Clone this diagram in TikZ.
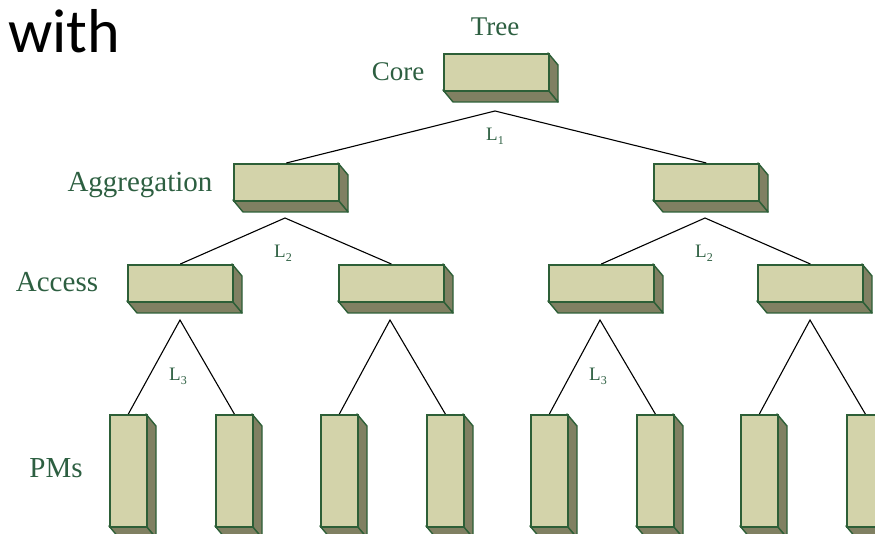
\documentclass[tikz,border=0pt]{standalone}
\usepackage{fontspec}
\setmainfont{Liberation Serif}
\newfontfamily\withfont{Carlito}
\usetikzlibrary{calc}
\definecolor{frontc}{RGB}{211,211,170}
\definecolor{sidec}{RGB}{128,128,98}
\definecolor{edgec}{RGB}{45,95,55}
\definecolor{txtc}{RGB}{45,95,65}
\tikzset{
  frontbox/.style={draw=edgec, fill=frontc, line width=1.7pt, rectangle, inner sep=0pt, anchor=north west},
  sidebox/.style={draw=edgec, fill=sidec, line width=1.4pt, line join=round},
  conn/.style={draw=black, line width=1.1pt},
  lvl/.style={text=txtc, font=\fontsize{27}{27}\selectfont, anchor=base, inner sep=0pt},
  lbl/.style={text=txtc, font=\fontsize{19}{19}\selectfont, anchor=base west, inner sep=0pt}
}
\newcommand\tdbox[5]{%
  \filldraw[sidebox] ({#2+#4},{#3}) -- ++(10,12) -- ({#2+#4+10},{#3+#5+12}) -- ({#2+#4},{#3+#5}) -- cycle;
  \filldraw[sidebox] ({#2},{#3+#5}) -- ({#2+#4},{#3+#5}) -- ({#2+#4+10},{#3+#5+12}) -- ({#2+10},{#3+#5+12}) -- cycle;
  \node[frontbox, minimum width=#4pt, minimum height=#5pt] (#1) at (#2,#3) {};
}
\newcommand\Lsub[1]{L\raisebox{-4pt}{\fontsize{12}{12}\selectfont #1}}
\begin{document}
\begin{tikzpicture}[x=1pt,y=-1pt]
\useasboundingbox (0,0) rectangle (875,534);
% texts
\node[anchor=base west, inner sep=0pt, font=\withfont\fontsize{62}{62}\selectfont] (with) at (8,53) {with};
\node[lvl] (tree) at (495,36) {Tree};
\node[lvl] (core) at (398,81) {Core};
\node[lvl, font=\fontsize{29}{29}\selectfont] (agg) at (140,192) {Aggregation};
\node[lvl, font=\fontsize{29}{29}\selectfont] (acc) at (57,292) {Access};
\node[lvl, font=\fontsize{29}{29}\selectfont] (pms) at (56,477) {PMs};
% boxes
\tdbox{c}{443}{53}{105}{37}
\tdbox{a1}{233}{163}{105}{37}
\tdbox{a2}{653}{163}{105}{37}
\tdbox{e1}{127}{264}{105}{37}
\tdbox{e2}{338}{264}{105}{37}
\tdbox{e3}{548}{264}{105}{37}
\tdbox{e4}{757}{264}{105}{37}
\tdbox{p1}{109}{414}{37}{112}
\tdbox{p2}{215}{414}{37}{112}
\tdbox{p3}{320}{414}{37}{112}
\tdbox{p4}{426}{414}{37}{112}
\tdbox{p5}{530}{414}{37}{112}
\tdbox{p6}{636}{414}{37}{112}
\tdbox{p7}{740}{414}{37}{112}
\tdbox{p8}{846}{414}{37}{112}
% apex points
\coordinate (k0) at (495,111);
\coordinate (k1) at (285,218);
\coordinate (k2) at (705,218);
\coordinate (m1) at (180,320);
\coordinate (m2) at (390,320);
\coordinate (m3) at (600,320);
\coordinate (m4) at (810,320);
% connectors
\draw[conn] (a1.north) -- (k0) -- (a2.north);
\draw[conn] (e1.north) -- (k1) -- (e2.north);
\draw[conn] (e3.north) -- (k2) -- (e4.north);
\draw[conn] (p1.north) -- (m1) -- (p2.north);
\draw[conn] (p3.north) -- (m2) -- (p4.north);
\draw[conn] (p5.north) -- (m3) -- (p6.north);
\draw[conn] (p7.north) -- (m4) -- (p8.north);
% link labels
\node[lbl] (l1) at (486,141) {\Lsub{1}};
\node[lbl] (l2a) at (274,258) {\Lsub{2}};
\node[lbl] (l2b) at (695,258) {\Lsub{2}};
\node[lbl] (l3a) at (169,381) {\Lsub{3}};
\node[lbl] (l3b) at (589,381) {\Lsub{3}};
\end{tikzpicture}
\end{document}
